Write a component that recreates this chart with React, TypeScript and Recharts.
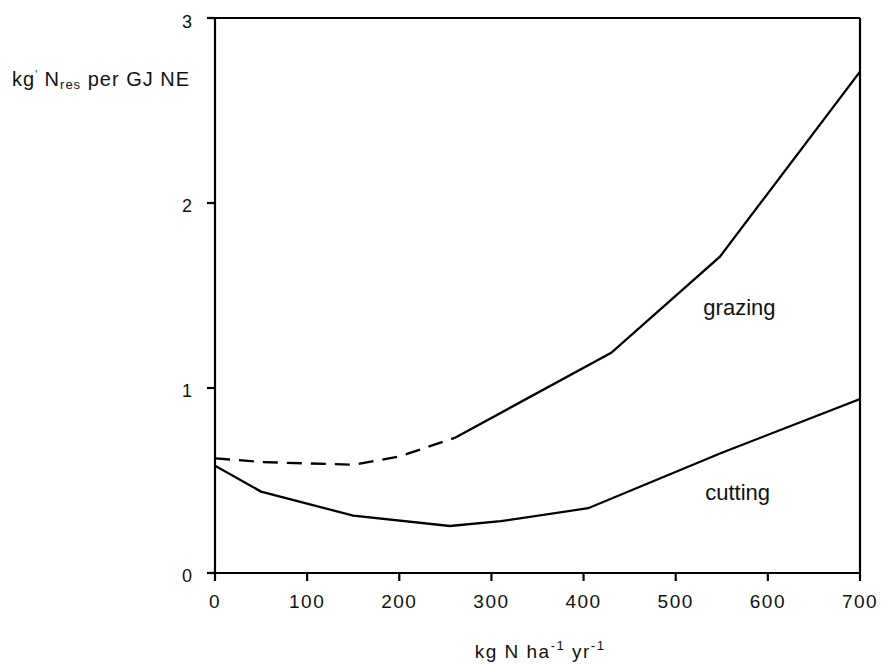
import { LineChart, Line, XAxis, YAxis, ReferenceLine, ReferenceDot } from "recharts"

// grazing, low N range (dashed part)
const grazingDashedX = [0, 50, 150, 200, 260]
const grazingDashedY = [0.62, 0.6, 0.585, 0.63, 0.73]

// grazing, solid part
const grazingSolidX = [260, 430, 548, 700]
const grazingSolidY = [0.73, 1.19, 1.71, 2.71]

// cutting
const cuttingX = [0, 50, 150, 255, 310, 405, 550, 700]
const cuttingY = [0.58, 0.44, 0.31, 0.254, 0.28, 0.35, 0.65, 0.94]

const xTicks = [0, 100, 200, 300, 400, 500, 600, 700]
const yTicks = [0, 1, 2, 3]

const toPoints = (xs: number[], ys: number[]) => xs.map((x, i) => ({ x, y: ys[i] }))

const font = "'Liberation Sans', Arial, sans-serif"
const ink = "#111"
const axisStyle = { stroke: "#000", strokeWidth: 2.2 }

const YLabel = () => (
  <text x={4} y={78} fontFamily={font} fontSize={20} fill={ink} letterSpacing={1}>
    kg<tspan dy={-8} fontSize={10}>'</tspan>
    <tspan dy={8}> N</tspan>
    <tspan dy={3} fontSize={13}>res</tspan>
    <tspan dy={-3}> per GJ NE</tspan>
  </text>
)

const XLabel = () => (
  <text x={532} y={650} fontFamily={font} fontSize={19} fill={ink} letterSpacing={1.5} textAnchor="middle">
    kg N ha<tspan dy={-8} fontSize={13}>-1</tspan>
    <tspan dy={8}> yr</tspan>
    <tspan dy={-8} fontSize={13}>-1</tspan>
  </text>
)

export default function App() {
  return (
    <LineChart width={879} height={657} margin={{ top: 10, right: 27, left: 0, bottom: 52 }}>
      <XAxis
        type="number"
        dataKey="x"
        domain={[0, 700]}
        ticks={xTicks}
        allowDataOverflow
        axisLine={axisStyle}
        tickLine={axisStyle}
        tickSize={8}
        tickMargin={14}
        height={40}
        tick={{ fontSize: 19, fill: ink, fontFamily: font, letterSpacing: 1.5 }}
        label={<XLabel />}
      />
      <YAxis
        type="number"
        domain={[0, 3]}
        ticks={yTicks}
        allowDataOverflow
        axisLine={axisStyle}
        tickLine={axisStyle}
        tickSize={8}
        tickMargin={15}
        width={207}
        tick={{ fontSize: 18, fill: ink, fontFamily: font, dy: 3 }}
        label={<YLabel />}
      />
      <ReferenceLine y={3} stroke="#000" strokeWidth={2} />
      <ReferenceLine x={700} stroke="#000" strokeWidth={2.2} />
      <Line
        data={toPoints(grazingDashedX, grazingDashedY)}
        dataKey="y"
        stroke="#000"
        strokeWidth={2.3}
        strokeDasharray="15 9"
        dot={false}
        isAnimationActive={false}
      />
      <Line
        data={toPoints(grazingSolidX, grazingSolidY)}
        dataKey="y"
        stroke="#000"
        strokeWidth={2.3}
        dot={false}
        isAnimationActive={false}
      />
      <Line
        data={toPoints(cuttingX, cuttingY)}
        dataKey="y"
        stroke="#000"
        strokeWidth={2.3}
        dot={false}
        isAnimationActive={false}
      />
      <ReferenceDot
        x={530}
        y={1.437}
        r={0}
        stroke="none"
        label={{ value: "grazing", position: "right", offset: 0, fontSize: 22, fill: ink, fontFamily: font }}
      />
      <ReferenceDot
        x={532}
        y={0.436}
        r={0}
        stroke="none"
        label={{ value: "cutting", position: "right", offset: 0, fontSize: 22, fill: ink, fontFamily: font }}
      />
    </LineChart>
  )
}
